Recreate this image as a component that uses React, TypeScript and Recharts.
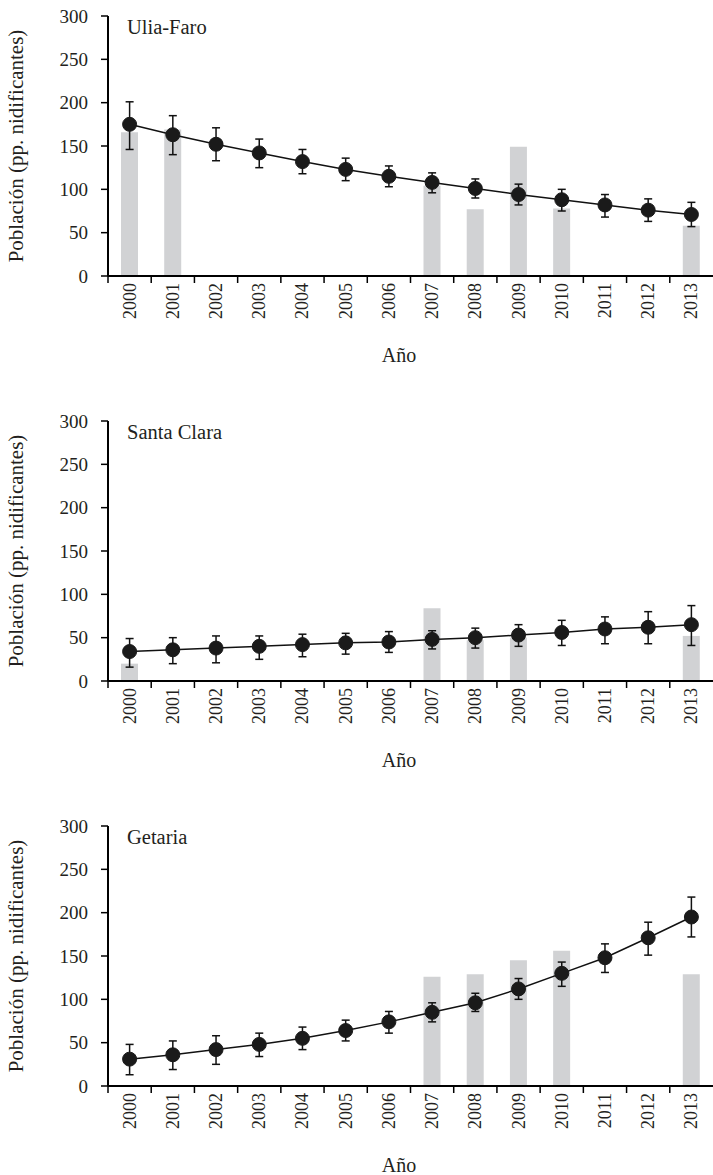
import React from 'react';
import { ComposedChart, Bar, Line, XAxis, YAxis, ErrorBar, Label } from 'recharts';

const years = ['2000','2001','2002','2003','2004','2005','2006','2007','2008','2009','2010','2011','2012','2013'];
const yTicks = [0, 50, 100, 150, 200, 250, 300];

// Ulia-Faro
const uliaPop = [175, 163, 152, 142, 132, 123, 115, 108, 101, 94, 88, 82, 76, 71];
const uliaLow = [146, 140, 133, 125, 118, 110, 103, 96, 90, 82, 75, 68, 63, 57];
const uliaHigh = [201, 185, 171, 158, 146, 136, 127, 119, 112, 106, 100, 94, 89, 85];
const uliaBar = [166, 169, null, null, null, null, null, 104, 77, 149, 78, null, null, 58];

// Santa Clara
const clPop = [34, 36, 38, 40, 42, 44, 45, 48, 50, 53, 56, 60, 62, 65];
const clLow = [16, 20, 21, 25, 28, 31, 33, 37, 38, 40, 41, 43, 43, 41];
const clHigh = [49, 50, 52, 52, 54, 55, 57, 58, 61, 65, 70, 74, 80, 87];
const clBar = [20, null, null, null, null, null, null, 84, 47, 50, null, null, null, 52];

// Getaria
const gePop = [31, 36, 42, 48, 55, 64, 74, 85, 96, 112, 130, 148, 171, 195];
const geLow = [13, 19, 25, 34, 42, 52, 61, 74, 86, 100, 115, 131, 151, 172];
const geHigh = [48, 52, 58, 61, 68, 76, 86, 96, 107, 124, 143, 164, 189, 218];
const geBar = [null, null, null, null, null, null, null, 126, 129, 145, 156, null, null, 129];

const panels = [
  { title: 'Ulia-Faro', pop: uliaPop, low: uliaLow, high: uliaHigh, bar: uliaBar },
  { title: 'Santa Clara', pop: clPop, low: clLow, high: clHigh, bar: clBar },
  { title: 'Getaria', pop: gePop, low: geLow, high: geHigh, bar: geBar },
];

const FONT = "'Liberation Serif', 'Times New Roman', serif";
const TXT = '#231f20';
const W = 713;
const H = 405;
const YW = 108;
const BAND = (W - YW) / years.length;

const XTick = (props: any) => {
  const { x, y, payload } = props;
  return (
    <g>
      <line x1={x - BAND / 2} x2={x - BAND / 2} y1={y} y2={y + 7} stroke="#000" strokeWidth={1.5} />
      <text
        x={x}
        y={y + 7}
        transform={`rotate(-90, ${x}, ${y + 7})`}
        textAnchor="end"
        dominantBaseline="central"
        fontFamily={FONT}
        fontSize={18}
        fill={TXT}
      >
        {payload.value}
      </text>
    </g>
  );
};

function Panel({ p }: { p: any }) {
  const data = years.map((yr, i) => ({
    year: yr,
    pop: p.pop[i],
    err: [p.pop[i] - p.low[i], p.high[i] - p.pop[i]],
    bar: p.bar[i],
  }));
  return (
    <div style={{ position: 'relative', width: W, height: H }}>
      <ComposedChart width={W} height={H} data={data} margin={{ top: 16, right: 0, bottom: 0, left: 0 }}>
        <XAxis
          dataKey="year"
          height={129}
          tickSize={0}
          tickMargin={0}
          tickLine={false}
          tick={<XTick />}
          interval={0}
          axisLine={{ stroke: '#000', strokeWidth: 2 }}
        >
          <Label
            content={(lp: any) => {
              const vb = lp.viewBox;
              return (
                <text x={399} y={vb.y + 79} textAnchor="middle" dominantBaseline="central" fontFamily={FONT} fontSize={20} fill={TXT}>
                  Año
                </text>
              );
            }}
          />
        </XAxis>
        <YAxis
          width={YW}
          domain={[0, 300]}
          ticks={yTicks}
          interval={0}
          tickSize={7}
          tickMargin={13}
          tick={{ fontFamily: FONT, fontSize: 19, fill: TXT }}
          tickLine={{ stroke: '#000', strokeWidth: 1.5 }}
          axisLine={{ stroke: '#000', strokeWidth: 2 }}
        >
          <Label
            content={(lp: any) => {
              const vb = lp.viewBox;
              const cy = vb.y + vb.height / 2;
              return (
                <text x={16} y={cy} transform={`rotate(-90, 16, ${cy})`} textAnchor="middle" dominantBaseline="central" fontFamily={FONT} fontSize={21} fill={TXT}>
                  Población (pp. nidificantes)
                </text>
              );
            }}
          />
        </YAxis>
        <Bar dataKey="bar" fill="#d1d2d4" barSize={17} isAnimationActive={false} />
        <Line
          dataKey="pop"
          stroke="#111"
          strokeWidth={1.5}
          dot={{ r: 7, fill: '#1a1a1a', stroke: '#1a1a1a', strokeWidth: 1 }}
          activeDot={false}
          isAnimationActive={false}
        >
          <ErrorBar dataKey="err" direction="y" width={4} stroke="#111" strokeWidth={1.5} isAnimationActive={false} />
        </Line>
      </ComposedChart>
      <div
        style={{
          position: 'absolute',
          left: 127,
          top: 16,
          fontFamily: FONT,
          fontSize: 20.5,
          color: TXT,
          lineHeight: '22px',
          whiteSpace: 'nowrap',
        }}
      >
        {p.title}
      </div>
    </div>
  );
}

export default function App() {
  return (
    <div style={{ position: 'absolute', left: 0, top: 0, width: W, background: '#fff' }}>
      {panels.map((p) => (
        <Panel key={p.title} p={p} />
      ))}
    </div>
  );
}
